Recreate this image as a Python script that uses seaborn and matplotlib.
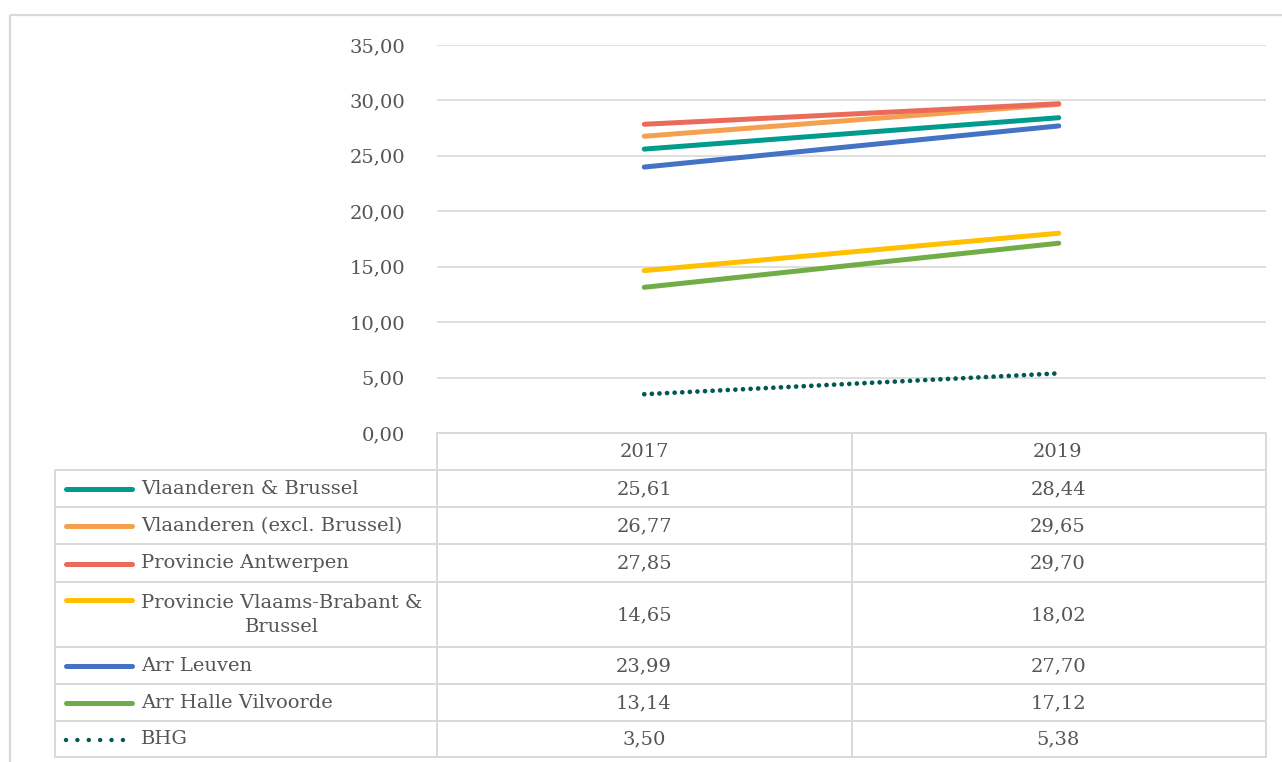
import matplotlib
matplotlib.use("Agg")
import matplotlib.pyplot as plt
from matplotlib.ticker import FuncFormatter
import pandas as pd
import seaborn as sns

# Data
years = ["2017", "2019"]
series_names = [
    "Vlaanderen & Brussel",
    "Vlaanderen (excl. Brussel)",
    "Provincie Antwerpen",
    "Provincie Vlaams-Brabant &\nBrussel",
    "Arr Leuven",
    "Arr Halle Vilvoorde",
    "BHG",
]
vlaanderen_brussel = [25.61, 28.44]
vlaanderen_excl = [26.77, 29.65]
antwerpen = [27.85, 29.70]
vlaams_brabant_brussel = [14.65, 18.02]
arr_leuven = [23.99, 27.70]
arr_halle_vilvoorde = [13.14, 17.12]
bhg = [3.50, 5.38]
all_values = [vlaanderen_brussel, vlaanderen_excl, antwerpen,
              vlaams_brabant_brussel, arr_leuven, arr_halle_vilvoorde, bhg]

colors = ["#009B8D", "#F5A04F", "#EC6A5A", "#FFC000", "#4472C4", "#70AD47", "#005A50"]
dotted = [False, False, False, False, False, False, True]

sns.set_theme(style="white")
plt.rcParams["font.family"] = ["DejaVu Serif"]
TEXT = "#555555"
GRID = "#D9D9D9"
FS = 14
LW = 3.6

W, H = 1282, 762
fig = plt.figure(figsize=(W / 100, H / 100), dpi=100)
fig.patch.set_facecolor("white")

# Overlay in pixel coordinates for the frame and the data table
ov = fig.add_axes([0, 0, 1, 1])
ov.set_xlim(0, W)
ov.set_ylim(H, 0)
ov.axis("off")

# Plot area
ax = fig.add_axes([437 / W, 1 - 433 / H, 829 / W, 388 / H])
ax.patch.set_alpha(0)

df = pd.DataFrame(
    [(name, yr, v) for name, vals in zip(series_names, all_values) for yr, v in zip(years, vals)],
    columns=["serie", "jaar", "waarde"],
)

for name, col, dot in zip(series_names, colors, dotted):
    sub = df[df["serie"] == name]
    if dot:
        sns.lineplot(data=sub, x="jaar", y="waarde", ax=ax, color=col, lw=3.4,
                     linestyle=(0, (0.01, 1.6)), dash_capstyle="round", legend=False)
    else:
        sns.lineplot(data=sub, x="jaar", y="waarde", ax=ax, color=col, lw=LW,
                     solid_capstyle="round", legend=False)

ax.set_xlim(-0.5, 1.5)
ax.set_ylim(0, 35)
ax.set_yticks(range(0, 36, 5))
ax.yaxis.set_major_formatter(FuncFormatter(lambda v, _: f"{v:.2f}".replace(".", ",")))
ax.set_xticks([])
ax.set_xlabel("")
ax.set_ylabel("")
ax.grid(axis="y", color=GRID, lw=1.2)
ax.set_axisbelow(True)
for s in ax.spines.values():
    s.set_visible(False)
ax.tick_params(axis="y", length=0, pad=23, labelcolor=TEXT, labelsize=FS)

# Outer chart frame
ov.plot([10, 10], [15, H], color=GRID, lw=1.6, solid_capstyle="butt")
ov.plot([10, W], [15, 15], color=GRID, lw=1.6, solid_capstyle="butt")

# Data table
x_left, x_mid1, x_mid2, x_right = 55, 437, 852, 1266
col_centers = [644, 1058]
row_edges = [470, 507, 544, 582, 647, 684, 721, 757]

ov.plot([x_mid1, x_right], [433, 433], color=GRID, lw=1.4)
for y in row_edges:
    ov.plot([x_left, x_right], [y, y], color=GRID, lw=1.4)
ov.plot([x_left, x_left], [row_edges[0], row_edges[-1]], color=GRID, lw=1.4)
for x in (x_mid1, x_mid2, x_right):
    ov.plot([x, x], [433, row_edges[-1]], color=GRID, lw=1.4)

for yr, cx in zip(years, col_centers):
    ov.text(cx, 452, yr, ha="center", va="center", color=TEXT, fontsize=FS)

for i, (name, vals, col, dot) in enumerate(zip(series_names, all_values, colors, dotted)):
    top, bot = row_edges[i], row_edges[i + 1]
    cy = (top + bot) / 2 + 0.5
    key_y = cy if "\n" not in name else top + 18
    if dot:
        ov.plot([66, 132], [key_y, key_y], color=col, lw=3.2,
                linestyle=(0, (0.01, 2.55)), dash_capstyle="round")
    else:
        ov.plot([66, 132], [key_y, key_y], color=col, lw=LW, solid_capstyle="round")
    ov.text(141, cy, name, ha="left", va="center", multialignment="center",
            color=TEXT, fontsize=FS, linespacing=1.45)
    for v, cx in zip(vals, col_centers):
        ov.text(cx, cy, f"{v:.2f}".replace(".", ","), ha="center", va="center",
                color=TEXT, fontsize=FS)

fig.savefig("out.png", dpi=100, facecolor="white")
